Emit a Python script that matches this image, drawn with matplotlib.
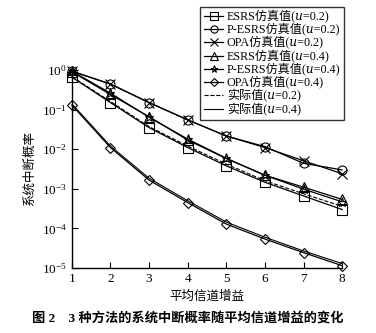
import matplotlib
matplotlib.use('Agg')
import matplotlib.pyplot as plt
import numpy as np

plt.rcParams['font.family'] = ['Liberation Serif', 'Noto Sans CJK SC', 'DejaVu Serif', 'DejaVu Sans']
plt.rcParams['mathtext.fontset'] = 'custom'
plt.rcParams['mathtext.rm'] = 'Liberation Serif'
plt.rcParams['mathtext.it'] = 'Liberation Serif:italic'

# 平均信道增益
gain = [1, 2, 3, 4, 5, 6, 7, 8]

# 仿真值
esrs_02 = [0.66, 0.15, 0.035, 0.011, 0.0038, 0.00146, 0.00066, 0.00030]
pesrs_02 = [0.93, 0.44, 0.15, 0.055, 0.0215, 0.0116, 0.0044, 0.0030]
opa_02 = [0.93, 0.44, 0.15, 0.055, 0.0215, 0.011, 0.0051, 0.0024]
esrs_04 = [0.90, 0.24, 0.066, 0.017, 0.0058, 0.0022, 0.0011, 0.00054]
pesrs_04 = [0.93, 0.26, 0.064, 0.018, 0.0059, 0.0022, 0.00098, 0.00047]
opa_04 = [0.13, 0.011, 0.00166, 0.00045, 0.000129, 5.4e-5, 2.45e-5, 1.15e-5]

# 实际值
actual_02 = [0.68, 0.16, 0.037, 0.012, 0.0042, 0.0016, 0.00075, 0.00036]
actual_04 = [0.14, 0.012, 0.00185, 0.0005, 0.000145, 6.0e-5, 2.7e-5, 1.3e-5]

U = '\U0001D462'  # 斜体 u

fig = plt.figure(figsize=(3.76, 3.33), dpi=100)
ax = fig.add_axes([0.191, 0.195, 0.719, 0.595])

mk = dict(color='black', lw=0.9, markersize=6.5, markerfacecolor='none',
          markeredgewidth=0.8, clip_on=False)
ax.plot(gain, esrs_02, marker='s', label=f'ESRS仿真值({U}=0.2)', **mk)
ax.plot(gain, pesrs_02, marker='o', label=f'P-ESRS仿真值({U}=0.2)', **mk)
ax.plot(gain, opa_02, marker='x', label=f'OPA仿真值({U}=0.2)', **mk)
ax.plot(gain, esrs_04, marker='^', label=f'ESRS仿真值({U}=0.4)', **mk)
ax.plot(gain, pesrs_04, marker='*', label=f'P-ESRS仿真值({U}=0.4)', **mk)
ax.plot(gain, opa_04, marker='D', label=f'OPA仿真值({U}=0.4)',
        color='black', lw=0.9, markersize=4.8, markerfacecolor='none',
        markeredgewidth=0.8, clip_on=False)
ax.plot(gain, actual_02, ls='--', color='black', lw=0.8, label=f'实际值({U}=0.2)')
ax.plot(gain, actual_04, ls='-', color='black', lw=0.8, label=f'实际值({U}=0.4)')

ax.set_yscale('log')
ax.set_xlim(1, 8)
ax.set_ylim(1e-5, 1)
ax.set_xticks(gain)
ax.set_yticks([1e-5, 1e-4, 1e-3, 1e-2, 1e-1, 1])
ax.minorticks_off()
ax.tick_params(direction='in', length=4, width=0.8, labelsize=9.5)
for s in ['top', 'right']:
    ax.spines[s].set_visible(False)
ax.spines['left'].set_linewidth(1.0)
ax.spines['bottom'].set_linewidth(1.0)

ax.set_xlabel('平均信道增益', fontsize=9)
ax.set_ylabel('系统中断概率', fontsize=9)

leg = ax.legend(loc='upper left', bbox_to_anchor=(0.475, 1.32), fontsize=8.7,
                frameon=True, fancybox=False, shadow=False, handlelength=1.6,
                handletextpad=0.3, labelspacing=0.02, borderpad=0.3,
                borderaxespad=0, markerscale=0.8)
leg.get_frame().set_edgecolor('black')
leg.get_frame().set_linewidth(1.0)

fig.text(0.5, 0.035, '图 2　3 种方法的系统中断概率随平均信道增益的变化',
         ha='center', fontsize=9.5, fontweight='bold')

fig.savefig('out.png', dpi=100)
